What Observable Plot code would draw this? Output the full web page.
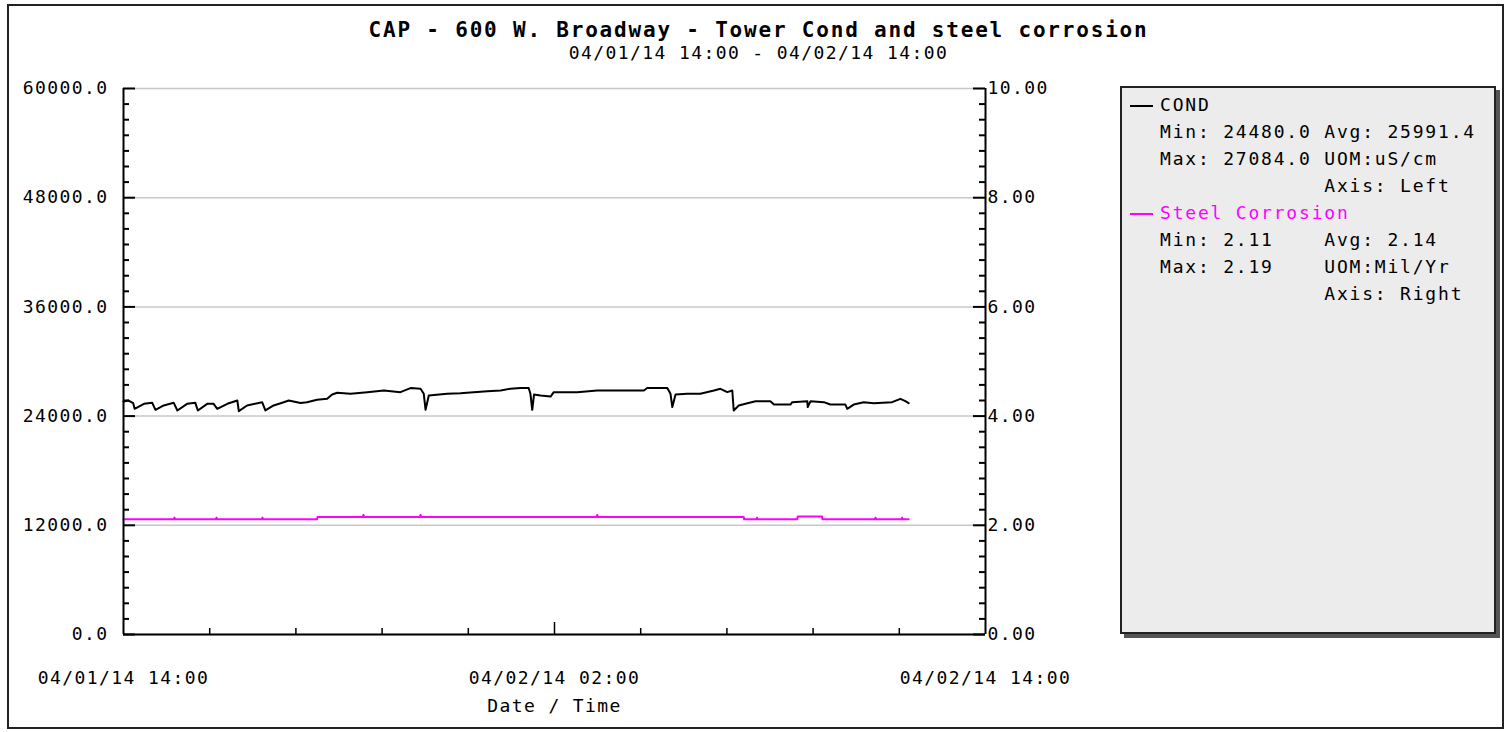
<!DOCTYPE html>
<html><head><meta charset="utf-8">
<script src="https://cdn.jsdelivr.net/npm/d3@7"></script>
<script src="https://cdn.jsdelivr.net/npm/@observablehq/plot@0.6"></script>
<style>
html,body{margin:0;padding:0;background:#fff;}
body{width:1505px;height:732px;position:relative;overflow:hidden;font-family:"DejaVu Sans Mono",monospace;color:#000;}
#frame{position:absolute;left:7px;top:4px;width:1497px;height:725px;border:2px solid #222;box-sizing:border-box;}
#title{position:absolute;left:0;width:1517px;top:17px;text-align:center;font-weight:bold;font-size:21px;line-height:26px;letter-spacing:1.8px;white-space:pre;}
#subtitle{position:absolute;left:0;width:1517px;top:42px;text-align:center;font-size:18px;line-height:22px;letter-spacing:1.4px;white-space:pre;}
#chart{position:absolute;left:0;top:70px;}
#chart svg text{letter-spacing:1.4px;}
#legend{position:absolute;left:1120px;top:86px;width:376px;height:548px;background:#ececec;border:2px solid #222;box-sizing:border-box;box-shadow:4px 4px 0 #555;}
.row{position:absolute;left:38px;font-size:18px;line-height:27px;letter-spacing:1.8px;white-space:pre;}
.dash{position:absolute;left:8px;width:23px;height:0;border-top:2px solid #000;}
</style></head>
<body>
<div id="frame"></div>
<div id="title"></div>
<div id="subtitle"></div>
<div id="chart"></div>
<div id="legend"></div>
<script>
// ---- data ----
const titleText = "CAP - 600 W. Broadway - Tower Cond and steel corrosion";
const subtitleText = "04/01/14 14:00 - 04/02/14 14:00";
const xLabel = "Date / Time";
const startTime = Date.UTC(2014, 3, 1, 14, 0);
const endTime = Date.UTC(2014, 3, 2, 14, 0);
const xTickLabels = ["04/01/14 14:00", "04/02/14 02:00", "04/02/14 14:00"];
const leftTicks = [0, 12000, 24000, 36000, 48000, 60000];
const rightTickLabels = ["0.00", "2.00", "4.00", "6.00", "8.00", "10.00"];

// COND (uS/cm), hours after 04/01/14 14:00
const condHours = [0.0,0.14,0.27,0.31,0.57,0.80,0.89,1.12,1.40,1.50,1.77,2.00,2.07,2.33,2.51,2.61,2.89,3.17,3.21,3.44,3.86,3.95,4.18,4.46,4.60,4.93,5.11,5.39,5.67,5.81,5.95,6.32,6.79,7.25,7.71,7.99,8.27,8.36,8.41,8.50,9.01,9.38,9.75,10.13,10.50,10.77,11.05,11.28,11.33,11.38,11.43,11.61,11.89,11.98,12.63,13.19,14.49,14.58,15.14,15.23,15.28,15.37,15.69,16.06,16.44,16.62,16.81,16.95,16.99,17.13,17.37,17.60,18.01,18.11,18.57,18.62,19.04,19.05,19.13,19.50,19.68,20.10,20.15,20.33,20.61,20.89,21.40,21.63,21.77,21.86];
const condValues = [25600,25710,25420,24800,25350,25460,24690,25170,25460,24620,25350,25460,24620,25350,25350,24800,25350,25710,24540,25170,25530,24620,25170,25530,25710,25450,25530,25790,25900,26370,26560,26450,26630,26810,26630,27080,27000,26450,24690,26260,26450,26520,26630,26740,26810,27000,27080,27080,26450,24690,26370,26260,26150,26630,26630,26810,26810,27080,27080,26450,24990,26370,26450,26450,26810,27000,26630,26810,24620,25170,25420,25640,25640,25270,25270,25530,25640,24990,25640,25530,25270,25270,24800,25270,25530,25420,25530,25900,25640,25420];

// Steel Corrosion (Mil/Yr), right axis
const corrHours = [0,1.40,1.42,1.44,2.57,2.59,2.61,3.85,3.87,3.89,5.39,5.40,6.66,6.68,6.70,8.25,8.27,8.29,13.17,13.19,13.21,17.27,17.28,17.62,17.64,17.66,18.76,18.77,19.45,19.46,20.92,20.94,20.96,21.66,21.68,21.70,21.86];
const corrValues = [2.11,2.11,2.14,2.11,2.11,2.14,2.11,2.11,2.14,2.11,2.11,2.15,2.15,2.19,2.15,2.15,2.19,2.15,2.15,2.19,2.15,2.15,2.11,2.11,2.14,2.11,2.11,2.16,2.16,2.11,2.11,2.14,2.11,2.11,2.14,2.11,2.11];

const legendRows = [
  {text: "COND", color: "#000", dash: true},
  {text: "Min: 24480.0 Avg: 25991.4", color: "#000"},
  {text: "Max: 27084.0 UOM:uS/cm", color: "#000"},
  {text: "             Axis: Left", color: "#000"},
  {text: "Steel Corrosion", color: "#ff00ff", dash: true},
  {text: "Min: 2.11    Avg: 2.14", color: "#000"},
  {text: "Max: 2.19    UOM:Mil/Yr", color: "#000"},
  {text: "             Axis: Right", color: "#000"}
];

// ---- build ----
document.getElementById("title").textContent = titleText;
document.getElementById("subtitle").textContent = subtitleText;

const ratio = 60000 / 10; // right axis scaling
const toDate = h => new Date(startTime + h * 3600e3);
const cond = condHours.map((h, i) => ({t: toDate(h), v: condValues[i]}));
const corr = corrHours.map((h, i) => ({t: toDate(h), v: corrValues[i] * ratio}));

const W = 1100, H = 650, mL = 123, mR = 115, mT = 18, mB = 86;
const innerW = W - mL - mR, innerH = H - mT - mB;

const minorY = d3.range(0, 36).map(i => i * 12000 / 7).filter((d, i) => i % 7 !== 0);
const xStep = (endTime - startTime) / 10;
const xTicksAll = d3.range(1, 10).map(i => new Date(startTime + i * xStep));
const xMinor = xTicksAll.filter((d, i) => i !== 4);
const xMajor = [xTicksAll[4]];
const xLabelTicks = [new Date(startTime), xTicksAll[4], new Date(endTime)];

const chart = Plot.plot({
  width: W, height: H,
  marginLeft: mL, marginRight: mR, marginTop: mT, marginBottom: mB,
  style: {fontFamily: "DejaVu Sans Mono, monospace", fontSize: "18px", background: "transparent", color: "#000"},
  x: {type: "utc", domain: [new Date(startTime), new Date(endTime)], label: null},
  y: {domain: [0, 60000], label: null},
  marks: [
    Plot.ruleY(leftTicks, {stroke: "#c8c8c8", strokeWidth: 1.5}),
    Plot.line(corr, {x: "t", y: "v", stroke: "#ff00ff", strokeWidth: 2}),
    Plot.line(cond, {x: "t", y: "v", stroke: "#000", strokeWidth: 2}),
    Plot.ruleY([0], {stroke: "#000", strokeWidth: 2}),
    Plot.ruleX([new Date(startTime), new Date(endTime)], {stroke: "#000", strokeWidth: 2}),
    // left ticks (inward)
    Plot.tickY(leftTicks, {y: d => d, stroke: "#000", strokeWidth: 2, insetRight: innerW - 12}),
    Plot.tickY(minorY, {y: d => d, stroke: "#000", strokeWidth: 2, insetRight: innerW - 6}),
    // right ticks (inward)
    Plot.tickY(leftTicks, {y: d => d, stroke: "#000", strokeWidth: 2, insetLeft: innerW - 12}),
    Plot.tickY(minorY, {y: d => d, stroke: "#000", strokeWidth: 2, insetLeft: innerW - 6}),
    // bottom ticks (inward)
    Plot.tickX(xMinor, {x: d => d, stroke: "#000", strokeWidth: 1.5, insetTop: innerH - 6}),
    Plot.tickX(xMajor, {x: d => d, stroke: "#000", strokeWidth: 1.5, insetTop: innerH - 12}),
    Plot.axisY({anchor: "left", label: null, ticks: leftTicks, tickSize: 0, tickPadding: 15, tickFormat: d => d.toFixed(1)}),
    Plot.axisY({anchor: "right", label: null, ticks: leftTicks, tickSize: 0, tickPadding: 2, tickFormat: d => rightTickLabels[leftTicks.indexOf(d)]}),
    Plot.axisX({label: null, ticks: xLabelTicks, tickSize: 0, tickPadding: 37, tickFormat: d => xTickLabels[xLabelTicks.findIndex(t => +t === +d)]}),
    Plot.text([xLabel], {frameAnchor: "bottom", dy: 77, fill: "#000", fontSize: 18})
  ]
});
document.getElementById("chart").appendChild(chart);

const legend = document.getElementById("legend");
legendRows.forEach((r, i) => {
  const top = 3 + i * 27;
  const div = document.createElement("div");
  div.className = "row";
  div.style.top = top + "px";
  div.style.color = r.color;
  div.textContent = r.text;
  legend.appendChild(div);
  if (r.dash) {
    const d = document.createElement("div");
    d.className = "dash";
    d.style.top = (top + 14) + "px";
    d.style.borderTopColor = r.color;
    legend.appendChild(d);
  }
});
</script>
</body></html>
